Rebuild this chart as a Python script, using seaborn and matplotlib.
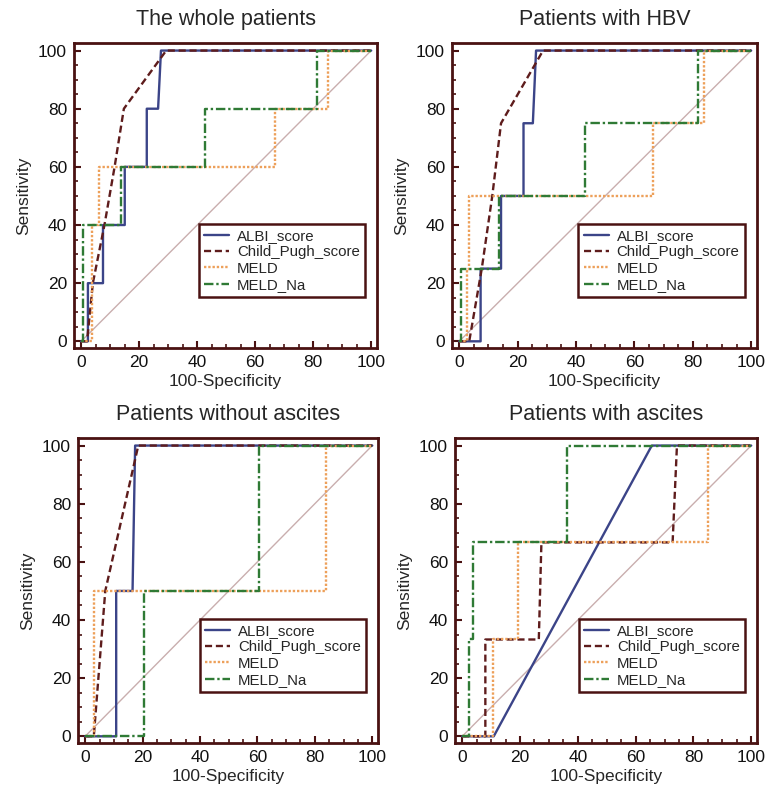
import pandas as pd
import matplotlib.pyplot as plt
import seaborn as sns
from matplotlib.ticker import MultipleLocator

# ROC points: (100-Specificity, Sensitivity)
methods = ['ALBI_score', 'Child_Pugh_score', 'MELD', 'MELD_Na']
titles = ['The whole patients', 'Patients with HBV',
          'Patients without ascites', 'Patients with ascites']

whole_albi = ([0, 2.3, 2.3, 7.5, 7.5, 15, 15, 22.6, 22.6, 26.5, 27.5, 100],
              [0, 0, 20, 20, 40, 40, 60, 60, 80, 80, 100, 100])
whole_child = ([0, 2, 4, 8, 11.5, 14.7, 29.3, 100],
               [0, 0, 20, 40, 60, 80, 100, 100])
whole_meld = ([0, 3.7, 3.7, 6, 6, 66.7, 66.7, 85, 85, 100],
              [0, 0, 40, 40, 60, 60, 80, 80, 100, 100])
whole_meldna = ([0, 0.6, 0.6, 13.6, 13.6, 42.8, 42.8, 81.4, 81.4, 100],
                [0, 0, 40, 40, 60, 60, 80, 80, 100, 100])

hbv_albi = ([0, 7.3, 7.3, 14.3, 14.3, 22, 22, 25.2, 26.3, 100],
            [0, 0, 25, 25, 50, 50, 75, 75, 100, 100])
hbv_child = ([0, 3.4, 7.7, 11.3, 14.3, 28.7, 100],
             [0, 0, 25, 50, 75, 100, 100])
hbv_meld = ([0, 2.5, 2.5, 3.4, 3.4, 66.4, 66.4, 84, 84, 100],
            [0, 0, 25, 25, 50, 50, 75, 75, 100, 100])
hbv_meldna = ([0, 0.5, 0.5, 13.6, 13.6, 43, 43, 81.7, 81.7, 100],
              [0, 0, 25, 25, 50, 50, 75, 75, 100, 100])

noasc_albi = ([0, 10.8, 10.8, 16.5, 17.4, 100],
              [0, 0, 50, 50, 100, 100])
noasc_child = ([0, 3, 7, 18.5, 100],
               [0, 0, 50, 100, 100])
noasc_meld = ([0, 3.2, 3.2, 84, 84, 100],
              [0, 0, 50, 50, 100, 100])
noasc_meldna = ([0, 20.6, 20.6, 60.7, 60.7, 100],
                [0, 0, 50, 50, 100, 100])

asc_albi = ([0, 10.9, 65.6, 100],
            [0, 0, 100, 100])
asc_child = ([0, 8, 8, 26.5, 27.4, 72.8, 74.3, 100],
             [0, 0, 33.3, 33.3, 66.7, 66.7, 100, 100])
asc_meld = ([0, 10.6, 10.6, 19.3, 19.3, 85, 85, 100],
            [0, 0, 33.3, 33.3, 66.7, 66.7, 100, 100])
asc_meldna = ([0, 2.5, 2.5, 3.9, 3.9, 36.1, 36.1, 100],
              [0, 0, 33.3, 33.3, 66.7, 66.7, 100, 100])

panels = [
    [whole_albi, whole_child, whole_meld, whole_meldna],
    [hbv_albi, hbv_child, hbv_meld, hbv_meldna],
    [noasc_albi, noasc_child, noasc_meld, noasc_meldna],
    [asc_albi, asc_child, asc_meld, asc_meldna],
]

colors = {'ALBI_score': '#3b4488', 'Child_Pugh_score': '#5e1c1c',
          'MELD': '#eda05a', 'MELD_Na': '#2f7a35'}
dashes = {'ALBI_score': (None, None), 'Child_Pugh_score': (3, 1.6),
          'MELD': (1, 0.8), 'MELD_Na': (4, 1.2, 1, 1.2)}
frame = '#4a1212'

sns.set_style('white')
plt.rcParams['font.family'] = ['Liberation Sans', 'DejaVu Sans']

fig = plt.figure(figsize=(7.69, 7.88), dpi=100)
W, H = 769, 788
boxes = [(74, 43, 377, 348), (452, 43, 757, 348),
         (78, 438, 378, 743), (455, 438, 757, 743)]

for i, (l, t, r, b) in enumerate(boxes):
    ax = fig.add_axes([l / W, 1 - b / H, (r - l) / W, (b - t) / H])
    # chance line
    ax.plot([0, 100], [0, 100], color='#c9aeae', lw=1.0, zorder=1)
    for m, (xs, ys) in zip(methods, panels[i]):
        df = pd.DataFrame({'fpr': xs, 'tpr': ys})
        line = sns.lineplot(data=df, x='fpr', y='tpr', sort=False, estimator=None,
                            color=colors[m], lw=1.7, label=m, ax=ax).lines[-1]
        if dashes[m][0] is not None:
            line.set_dashes(dashes[m])
    ax.set_xlim(-2.5, 102)
    ax.set_ylim(-2.3, 102.6)
    ax.xaxis.set_major_locator(MultipleLocator(20))
    ax.yaxis.set_major_locator(MultipleLocator(20))
    ax.xaxis.set_minor_locator(MultipleLocator(5))
    ax.yaxis.set_minor_locator(MultipleLocator(5))
    ax.tick_params(which='major', direction='in', length=5, width=1.5,
                   color=frame, labelsize=12.5, pad=5, labelcolor='#111111')
    ax.tick_params(which='minor', direction='in', length=3, width=1.2, color=frame)
    ax.tick_params(bottom=True, left=True, which='both')
    for s in ax.spines.values():
        s.set_color(frame)
        s.set_linewidth(2)
    ax.set_title(titles[i], fontsize=15.5, pad=13)
    ax.set_xlabel('100-Specificity', fontsize=12.5, labelpad=3)
    ax.set_ylabel('Sensitivity', fontsize=12.5, labelpad=5)
    leg = ax.legend(loc='lower right', bbox_to_anchor=(0.96, 0.167), borderaxespad=0,
                    fontsize=10.8, frameon=True, fancybox=False, framealpha=1,
                    borderpad=0.35, labelspacing=0.15,
                    handlelength=1.7, handletextpad=0.5)
    leg.get_frame().set_edgecolor(frame)
    leg.get_frame().set_linewidth(1.8)

fig.savefig('out.png', dpi=100)
